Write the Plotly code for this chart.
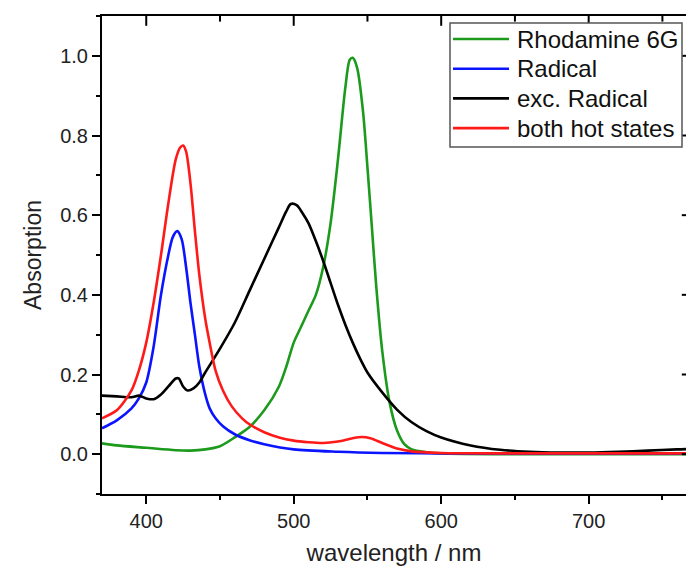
import plotly.graph_objects as go

# ---- data ----
rh_x = [370, 380, 400, 420, 430, 440, 450, 460, 470, 480, 490, 495, 500, 505, 510, 515, 520, 525, 530, 535, 538, 540, 543, 547, 550, 553, 556, 560, 565, 570, 575, 580, 590, 600, 650, 700, 770]
rh_y = [0.027, 0.022, 0.016, 0.010, 0.009, 0.012, 0.020, 0.042, 0.068, 0.110, 0.170, 0.220, 0.280, 0.320, 0.360, 0.400, 0.470, 0.580, 0.740, 0.920, 0.990, 0.995, 0.970, 0.860, 0.720, 0.570, 0.420, 0.260, 0.130, 0.060, 0.025, 0.012, 0.005, 0.002, 0.0, 0.0, 0.0]

rad_x = [370, 380, 390, 395, 400, 405, 410, 415, 418, 421, 424, 427, 430, 433, 436, 440, 443, 447, 452, 460, 470, 480, 500, 530, 560, 600, 700, 770]
rad_y = [0.065, 0.085, 0.115, 0.140, 0.180, 0.270, 0.400, 0.500, 0.545, 0.560, 0.540, 0.470, 0.380, 0.300, 0.220, 0.150, 0.115, 0.090, 0.070, 0.050, 0.035, 0.025, 0.012, 0.006, 0.003, 0.002, 0.001, 0.001]

exc_x = [370, 380, 390, 395, 400, 405, 410, 415, 420, 422, 425, 428, 432, 436, 440, 450, 460, 470, 480, 490, 495, 498, 502, 506, 510, 515, 520, 525, 530, 535, 540, 545, 550, 560, 570, 580, 590, 600, 620, 640, 660, 680, 700, 720, 740, 760, 770]
exc_y = [0.147, 0.145, 0.143, 0.147, 0.140, 0.138, 0.150, 0.170, 0.190, 0.190, 0.170, 0.160, 0.165, 0.180, 0.205, 0.265, 0.330, 0.410, 0.490, 0.570, 0.610, 0.628, 0.625, 0.605, 0.580, 0.535, 0.485, 0.430, 0.375, 0.325, 0.280, 0.240, 0.205, 0.155, 0.112, 0.080, 0.058, 0.042, 0.022, 0.011, 0.006, 0.004, 0.004, 0.006, 0.009, 0.012, 0.013]

hot_x = [370, 380, 390, 395, 400, 405, 410, 415, 420, 423, 425, 427, 430, 433, 436, 440, 443, 447, 452, 458, 465, 470, 480, 490, 500, 510, 520, 530, 540, 546, 552, 560, 570, 580, 600, 650, 770]
hot_y = [0.090, 0.110, 0.160, 0.210, 0.280, 0.380, 0.500, 0.630, 0.740, 0.770, 0.775, 0.760, 0.680, 0.560, 0.450, 0.340, 0.280, 0.210, 0.160, 0.120, 0.090, 0.075, 0.055, 0.042, 0.034, 0.030, 0.028, 0.032, 0.040, 0.043, 0.040, 0.028, 0.014, 0.007, 0.003, 0.002, 0.002]

names = ["Rhodamine 6G", "Radical", "exc. Radical", "both hot states"]
colors = ["#1c9a1c", "#0a14ff", "#000000", "#ff1a1a"]
xs_all = [rh_x, rad_x, exc_x, hot_x]
ys_all = [rh_y, rad_y, exc_y, hot_y]

x_range = [370, 766]
y_range = [-0.1, 1.1]
x_ticks = [400, 500, 600, 700]
x_minor_ticks = [450, 550, 650, 750]
y_ticks = [0.0, 0.2, 0.4, 0.6, 0.8, 1.0]

FONT = "Liberation Sans, Arial, sans-serif"
W, H = 686, 566
ML, MR, MT, MB = 102, 0, 16, 72
PW, PH = W - ML - MR, H - MT - MB


def px_x(p):
    return (p - ML) / PW


def px_y(p):
    return (H - MB - p) / PH


fig = go.Figure()
for name, xs, ys, col in zip(names, xs_all, ys_all, colors):
    fig.add_trace(go.Scatter(x=xs, y=ys, name=name, mode="lines", showlegend=False,
                             line=dict(color=col, width=2.6, shape="spline", smoothing=0.8)))

# inward-pointing frame ticks on the top edge (and major ones on the right edge);
# the markers sit on the frame and are clipped to the plot area, leaving the inner half
tick_marker = dict(color="black", line=dict(color="black", width=2))
fig.add_trace(go.Scatter(x=x_ticks, y=[y_range[1]] * len(x_ticks), mode="markers",
                         marker=dict(symbol="line-ns", size=14, **tick_marker),
                         showlegend=False, hoverinfo="skip", cliponaxis=True))
fig.add_trace(go.Scatter(x=x_minor_ticks, y=[y_range[1]] * len(x_minor_ticks), mode="markers",
                         marker=dict(symbol="line-ns", size=8, **tick_marker),
                         showlegend=False, hoverinfo="skip", cliponaxis=True))
fig.add_trace(go.Scatter(x=[x_range[1]] * len(y_ticks), y=y_ticks, mode="markers",
                         marker=dict(symbol="line-ew", size=6, **tick_marker),
                         showlegend=False, hoverinfo="skip", cliponaxis=True))

line_style = dict(showline=True, linecolor="black", linewidth=2, showgrid=False, zeroline=False,
                  tickcolor="black", tickwidth=2)
tick_font = dict(family=FONT, size=20, color="#222")

fig.update_layout(
    width=W, height=H,
    margin=dict(l=ML, r=MR, t=MT, b=MB),
    paper_bgcolor="white", plot_bgcolor="white",
    font=dict(family=FONT, color="#222"),
    showlegend=False,
    xaxis=dict(range=x_range, tickvals=x_ticks, ticks="outside", ticklen=8, tickfont=tick_font,
               mirror=True,
               minor=dict(dtick=50, tick0=350, ticks="outside", ticklen=4, tickwidth=2, tickcolor="black"),
               title=dict(text="wavelength / nm", font=dict(family=FONT, size=24, color="#222"), standoff=13),
               **line_style),
    yaxis=dict(range=y_range, tickvals=y_ticks, tickformat=".1f", ticks="outside", ticklen=8,
               tickfont=tick_font,
               minor=dict(dtick=0.1, tick0=0, ticks="outside", ticklen=4, tickwidth=2, tickcolor="black"),
               title=dict(text="Absorption", font=dict(family=FONT, size=23, color="#222"), standoff=12),
               **line_style),
)

# legend box drawn by hand (long line samples like the reference)
box_l, box_r, box_t, box_b = 450, 682, 23, 147
fig.add_shape(type="rect", xref="paper", yref="paper",
              x0=px_x(box_l), x1=px_x(box_r), y0=px_y(box_b), y1=px_y(box_t),
              line=dict(color="#555", width=1.5), fillcolor="white", layer="above")
row0, row_gap = 39, 29.7
for i, (name, col) in enumerate(zip(names, colors)):
    yy = px_y(row0 + i * row_gap)
    fig.add_shape(type="line", xref="paper", yref="paper",
                  x0=px_x(453), x1=px_x(509), y0=yy, y1=yy,
                  line=dict(color=col, width=2.6), layer="above")
    fig.add_annotation(xref="paper", yref="paper", x=px_x(515), y=yy, text=name,
                       showarrow=False, xanchor="left", yanchor="middle",
                       font=dict(family=FONT, size=24, color="#111"))

fig.write_html("out.html")
